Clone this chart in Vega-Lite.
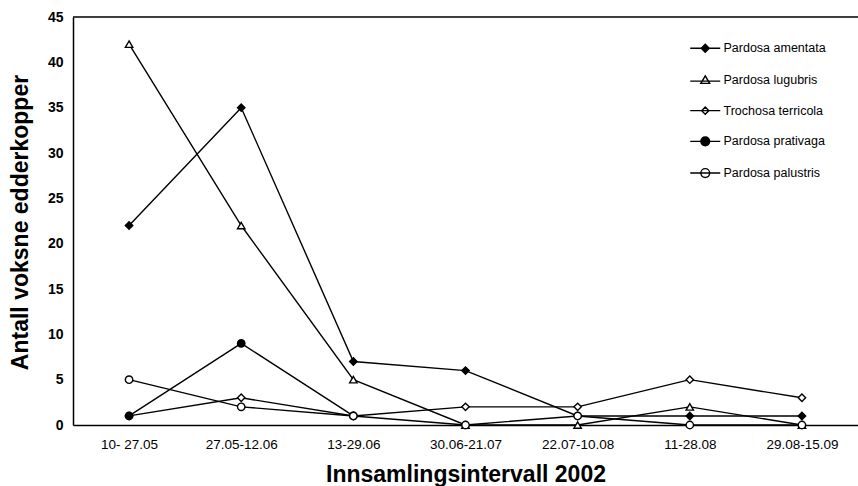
{
  "$schema": "https://vega.github.io/schema/vega-lite/v6.json",
  "width": 785,
  "height": 408,
  "autosize": {"type": "none"},
  "padding": {"left": 73, "top": 17, "right": 0, "bottom": 61},
  "background": "white",
  "config": {
    "view": {"stroke": null},
    "font": "Liberation Sans",
    "legend": {
      "title": null,
      "orient": "none",
      "legendX": 626,
      "legendY": 25,
      "symbolSize": 64,
      "symbolStrokeWidth": 1.4,
      "labelFontSize": 12.5,
      "labelColor": "black",
      "labelOffset": 12,
      "rowPadding": 16.7,
      "padding": 0
    }
  },
  "resolve": {
    "scale": {"shape": "independent", "fill": "independent", "stroke": "independent"},
    "legend": {"shape": "independent", "fill": "independent", "stroke": "independent"}
  },
  "data": {
    "values": [
      {"species": "Pardosa amentata", "interval": "10- 27.05", "count": 22},
      {"species": "Pardosa amentata", "interval": "27.05-12.06", "count": 35},
      {"species": "Pardosa amentata", "interval": "13-29.06", "count": 7},
      {"species": "Pardosa amentata", "interval": "30.06-21.07", "count": 6},
      {"species": "Pardosa amentata", "interval": "22.07-10.08", "count": 1},
      {"species": "Pardosa amentata", "interval": "11-28.08", "count": 1},
      {"species": "Pardosa amentata", "interval": "29.08-15.09", "count": 1},
      {"species": "Pardosa lugubris", "interval": "10- 27.05", "count": 42},
      {"species": "Pardosa lugubris", "interval": "27.05-12.06", "count": 22},
      {"species": "Pardosa lugubris", "interval": "13-29.06", "count": 5},
      {"species": "Pardosa lugubris", "interval": "30.06-21.07", "count": 0},
      {"species": "Pardosa lugubris", "interval": "22.07-10.08", "count": 0},
      {"species": "Pardosa lugubris", "interval": "11-28.08", "count": 2},
      {"species": "Pardosa lugubris", "interval": "29.08-15.09", "count": 0},
      {"species": "Trochosa terricola", "interval": "10- 27.05", "count": 1},
      {"species": "Trochosa terricola", "interval": "27.05-12.06", "count": 3},
      {"species": "Trochosa terricola", "interval": "13-29.06", "count": 1},
      {"species": "Trochosa terricola", "interval": "30.06-21.07", "count": 2},
      {"species": "Trochosa terricola", "interval": "22.07-10.08", "count": 2},
      {"species": "Trochosa terricola", "interval": "11-28.08", "count": 5},
      {"species": "Trochosa terricola", "interval": "29.08-15.09", "count": 3},
      {"species": "Pardosa prativaga", "interval": "10- 27.05", "count": 1},
      {"species": "Pardosa prativaga", "interval": "27.05-12.06", "count": 9},
      {"species": "Pardosa prativaga", "interval": "13-29.06", "count": 1},
      {"species": "Pardosa palustris", "interval": "10- 27.05", "count": 5},
      {"species": "Pardosa palustris", "interval": "27.05-12.06", "count": 2},
      {"species": "Pardosa palustris", "interval": "13-29.06", "count": 1},
      {"species": "Pardosa palustris", "interval": "30.06-21.07", "count": 0},
      {"species": "Pardosa palustris", "interval": "22.07-10.08", "count": 1},
      {"species": "Pardosa palustris", "interval": "11-28.08", "count": 0},
      {"species": "Pardosa palustris", "interval": "29.08-15.09", "count": 0}
    ]
  },
  "layer": [
    {
      "mark": {"type": "line", "color": "black", "strokeWidth": 1.4},
      "encoding": {
        "x": {
          "field": "interval",
          "type": "ordinal",
          "sort": ["10- 27.05", "27.05-12.06", "13-29.06", "30.06-21.07", "22.07-10.08", "11-28.08", "29.08-15.09"],
          "scale": {"type": "point", "padding": 0.5},
          "axis": {
            "title": "Innsamlingsintervall 2002",
            "labelAngle": 0,
            "ticks": false,
            "labelPadding": 12,
            "labelFontSize": 13.5,
            "labelColor": "black",
            "domainColor": "black",
            "domainWidth": 1.5,
            "grid": false,
            "titleFontSize": 23,
            "titleFontWeight": "bold",
            "titleColor": "black",
            "titleBaseline": "alphabetic",
            "titleY": 56
          }
        },
        "y": {
          "field": "count",
          "type": "quantitative",
          "scale": {"domain": [0, 45], "nice": false},
          "axis": {
            "values": [0, 5, 10, 15, 20, 25, 30, 35, 40, 45],
            "title": "Antall voksne edderkopper",
            "ticks": false,
            "labelPadding": 10,
            "labelFontSize": 14,
            "labelFontWeight": "bold",
            "labelColor": "black",
            "domainColor": "black",
            "domainWidth": 1.5,
            "grid": false,
            "titleFontSize": 23,
            "titleFontWeight": "bold",
            "titleColor": "black",
            "titleBaseline": "alphabetic",
            "titleX": -46,
            "titleY": 205
          }
        },
        "detail": {"field": "species"}
      }
    },
    {
      "data": {"values": [{"top": 45}]},
      "mark": {"type": "rule", "color": "black", "strokeWidth": 1.3},
      "encoding": {"y": {"field": "top", "type": "quantitative"}}
    },
    {
      "mark": {"type": "point", "filled": true, "stroke": "black", "strokeWidth": 1.4, "size": 55, "opacity": 1},
      "encoding": {
        "x": {"field": "interval", "type": "ordinal", "sort": ["10- 27.05", "27.05-12.06", "13-29.06", "30.06-21.07", "22.07-10.08", "11-28.08", "29.08-15.09"]},
        "y": {"field": "count", "type": "quantitative"},
        "shape": {
          "field": "species",
          "type": "nominal",
          "scale": {
            "domain": ["Pardosa amentata", "Pardosa lugubris", "Trochosa terricola", "Pardosa prativaga", "Pardosa palustris"],
            "range": ["diamond", "triangle-up", "diamond", "circle", "circle"]
          },
          "legend": null
        },
        "fill": {
          "field": "species",
          "type": "nominal",
          "scale": {
            "domain": ["Pardosa amentata", "Pardosa lugubris", "Trochosa terricola", "Pardosa prativaga", "Pardosa palustris"],
            "range": ["black", "white", "white", "black", "white"]
          },
          "legend": null
        }
      }
    },
    {
      "transform": [{"filter": "false"}],
      "mark": {"type": "point", "filled": true, "strokeWidth": 1.4, "opacity": 1},
      "encoding": {
        "shape": {
          "field": "species",
          "type": "nominal",
          "scale": {
            "domain": ["Pardosa amentata", "Pardosa lugubris", "Trochosa terricola", "Pardosa prativaga", "Pardosa palustris"],
            "range": [
              "M-3.75,0H3.75M0,-1L1,0L0,1L-1,0Z",
              "M-3.75,0.3H3.75M0,-1L1.1,0.85L-1.1,0.85Z",
              "M-3.75,0H3.75M0,-0.9L0.9,0L0,0.9L-0.9,0Z",
              "M-3.75,0H3.75M1.1,0A1.1,1.1,0,1,1,-1.1,0A1.1,1.1,0,1,1,1.1,0Z",
              "M-3.75,0H3.75M1.1,0A1.1,1.1,0,1,1,-1.1,0A1.1,1.1,0,1,1,1.1,0Z"
            ]
          }
        },
        "fill": {
          "field": "species",
          "type": "nominal",
          "scale": {
            "domain": ["Pardosa amentata", "Pardosa lugubris", "Trochosa terricola", "Pardosa prativaga", "Pardosa palustris"],
            "range": ["black", "white", "white", "black", "white"]
          }
        },
        "stroke": {
          "field": "species",
          "type": "nominal",
          "scale": {
            "domain": ["Pardosa amentata", "Pardosa lugubris", "Trochosa terricola", "Pardosa prativaga", "Pardosa palustris"],
            "range": ["black", "black", "black", "black", "black"]
          }
        }
      }
    }
  ]
}
